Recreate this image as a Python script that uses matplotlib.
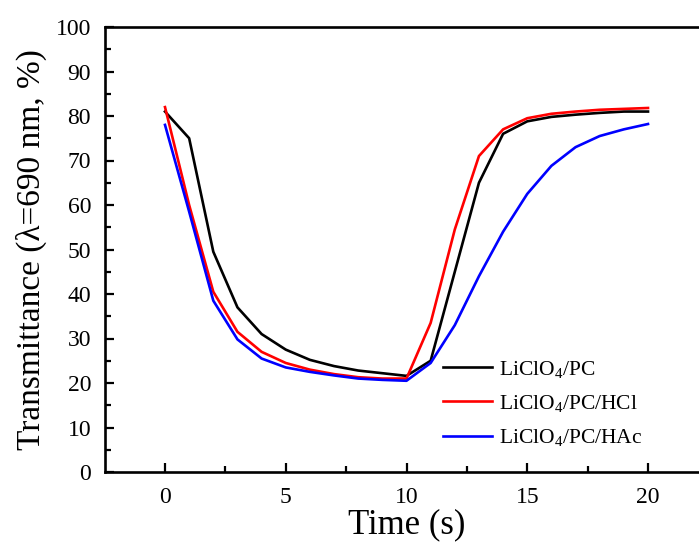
import matplotlib
matplotlib.use("Agg")
import matplotlib.pyplot as plt
from matplotlib.ticker import MultipleLocator

time_s = list(range(0, 21))
liclo4_pc = [81.0, 75.0, 49.5, 37.0, 31.0, 27.5, 25.2, 23.8, 22.8, 22.2, 21.6,
             25.0, 45.0, 65.0, 76.0, 78.8, 79.8, 80.3, 80.7, 81.0, 81.0]
liclo4_pc_hcl = [82.0, 60.0, 40.5, 31.5, 27.0, 24.5, 23.0, 22.0, 21.3, 21.0, 21.0,
                 33.5, 54.5, 71.0, 77.0, 79.5, 80.5, 81.0, 81.4, 81.6, 81.8]
liclo4_pc_hac = [78.0, 58.5, 38.5, 29.8, 25.5, 23.5, 22.5, 21.7, 21.0, 20.7, 20.5,
                 24.5, 33.0, 44.0, 54.0, 62.5, 68.8, 73.0, 75.5, 77.0, 78.2]

labels = [r"LiClO$_4$/PC", r"LiClO$_4$/PC/HCl", r"LiClO$_4$/PC/HAc"]
colors = ["black", "red", "blue"]

plt.rcParams["font.family"] = ["Liberation Serif", "DejaVu Serif"]
plt.rcParams["mathtext.fontset"] = "custom"
plt.rcParams["mathtext.rm"] = "Liberation Serif"
plt.rcParams["mathtext.it"] = "Liberation Serif:italic"

fig = plt.figure(figsize=(6.99, 5.46), dpi=100)
W, H = 699, 546
left_px, top_px, bottom_px = 105, 27, 472
x0_px, x20_px = 165, 648
ppu = (x20_px - x0_px) / 20.0
xmin = (left_px - x0_px) / ppu
xmax = 22.5
right_px = x0_px + xmax * ppu
ax = fig.add_axes([left_px / W, 1 - bottom_px / H, (right_px - left_px) / W,
                   (bottom_px - top_px) / H])

for y, lab, c in zip([liclo4_pc, liclo4_pc_hcl, liclo4_pc_hac], labels, colors):
    ax.plot(time_s, y, color=c, lw=1.9, label=lab)

ax.set_xlim(xmin, xmax)
ax.set_ylim(0, 100)
ax.xaxis.set_major_locator(MultipleLocator(5))
ax.xaxis.set_minor_locator(MultipleLocator(2.5))
ax.yaxis.set_major_locator(MultipleLocator(10))
ax.yaxis.set_minor_locator(MultipleLocator(5))
ax.tick_params(which="both", direction="in", width=1.6, top=False, right=False,
               labelsize=17)
ax.tick_params(axis="x", which="both", pad=11)
ax.tick_params(axis="y", which="both", pad=10)
ax.tick_params(which="major", length=6.5)
ax.tick_params(which="minor", length=4.5)
for s in ax.spines.values():
    s.set_linewidth(1.9)

ax.set_xlabel("Time (s)", fontsize=25, labelpad=0)
ax.set_ylabel("Transmittance (λ=690 nm, %)", fontsize=24, labelpad=6)

leg = ax.legend(loc="upper left",
                bbox_to_anchor=((434 - left_px) / (right_px - left_px),
                                (bottom_px - 350) / (bottom_px - top_px)),
                frameon=False, fontsize=15.5, handlelength=2.3, handletextpad=0.3,
                labelspacing=0.62, borderaxespad=0)

fig.savefig("out.png", dpi=100)
